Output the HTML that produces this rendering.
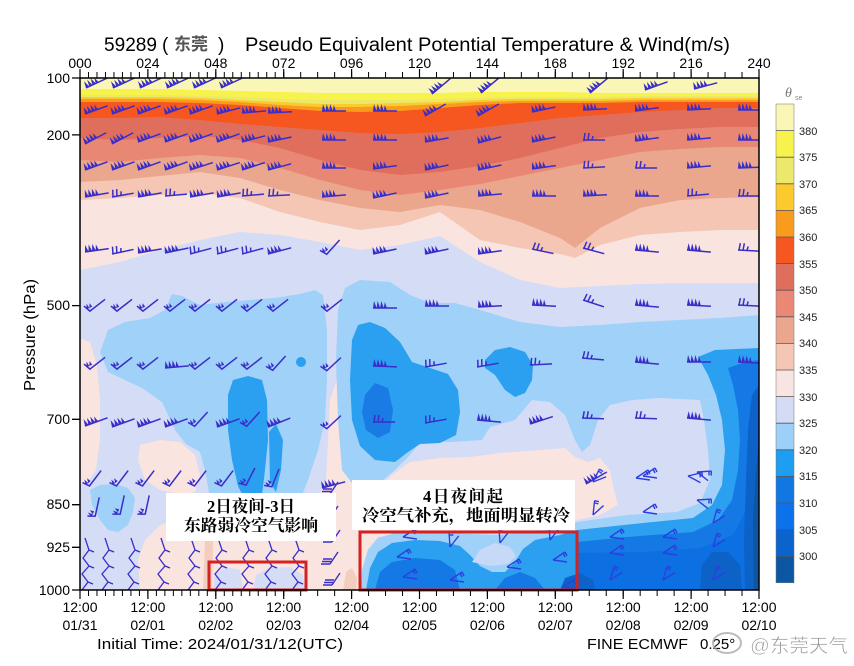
<!DOCTYPE html>
<html><head><meta charset="utf-8"><style>html,body{margin:0;padding:0;background:#fff}svg{display:block}</style></head>
<body>
<svg width="854" height="666" viewBox="0 0 854 666" xmlns="http://www.w3.org/2000/svg" font-family="'Liberation Sans', Arial, sans-serif">
<defs>
<clipPath id="pc"><rect x="80" y="78" width="679" height="512"/></clipPath>
<pattern id="t3" patternUnits="userSpaceOnUse" x="79.5" y="0" width="8.4875" height="700"><rect width="1" height="700" fill="#000"/></pattern>
<pattern id="t6" patternUnits="userSpaceOnUse" x="79.5" y="0" width="16.975" height="700"><rect width="1" height="700" fill="#000"/></pattern>
<g id="bA" fill="#3a2ec8" stroke="#3a2ec8" stroke-width="1.5"><path d="M0,0H24" fill="none"/><path stroke="none" d="M0,0L1,-7L3.6,0ZM3.6,0L4.6,-7L7.2,0ZM7.2,0L8.2,-7L10.8,0ZM10.8,0L11.8,-6L14,0Z"/></g>
<g id="bF" fill="none" stroke="#3a2ec8" stroke-width="1.5"><path d="M0,0H22M1,0L2,-7M5,0L6,-7M9,0l1,-4"/></g>
<g id="bK" stroke="#3a2ec8" stroke-width="1.5" fill="#3a2ec8"><path d="M0,-6L5,0L22,-9" fill="none"/><path stroke="none" d="M2,-3L3,-8L5,-3ZM5,-3L6,-8L8,-4Z"/></g>
<g id="bZ" fill="none" stroke="#3a2ec8" stroke-width="1.3"><path d="M0,0L6,-8L0,-16L7,-24L1,-32L7,-40L3,-52M6,-8l5,2M7,-24l5,2M7,-40l5,2"/></g>
<g id="bV" fill="none" stroke="#2d3fe0" stroke-width="1.4"><path d="M0,0L12,-8M0,0L14,2M12,-8l2,4M10,-7l2,4"/></g>
<g id="bE" fill="none" stroke="#3a2ec8" stroke-width="1.4"><path d="M0,0L8,-12M0,0H-9M1,-2.5H-8M2,-5H-7"/></g>
</defs>
<rect width="854" height="666" fill="#fff"/>

<g clip-path="url(#pc)">
<rect x="80" y="78" width="679" height="512" fill="#f9f6b6"/>
<polygon fill="#f8f24c" points="80,89 120,89 160,89 200,90 240,91 280,92 320,93 360,93 400,93 440,93 480,92 520,92 560,92 600,93 640,93 680,93 720,93 759,93 759,590 80,590"/>
<polygon fill="#ece86c" points="80,95 120,95 160,95 200,96 240,97 280,99 320,100 360,100 400,100 440,99 480,98 520,97 560,97 600,97 640,96 680,96 720,96 759,96 759,590 80,590"/>
<polygon fill="#fcca2c" points="80,97 120,97 160,97 200,98 240,100 280,102 320,104 360,104 400,103 440,102 480,100 520,99 560,99 600,99 640,98 680,98 720,98 759,98 759,590 80,590"/>
<polygon fill="#f99c1d" points="80,99 120,99 160,99 200,100 240,102 280,105 320,107 360,107 400,106 440,104 480,102 520,101 560,101 600,101 640,100 680,100 720,100 759,100 759,590 80,590"/>
<polygon fill="#f6561f" points="80,102 120,102 160,102 200,103 240,105 280,108 320,111 360,112 400,111 440,108 480,105 520,103 560,103 600,103 640,102 680,102 720,102 759,102 759,590 80,590"/>
<polygon fill="#df6f5c" points="80,118 120,118 160,117 200,120 240,124 280,127 320,130 360,133 400,134 440,132 480,128 520,123 560,118 600,115 640,112 680,110 720,108 759,108 759,590 80,590"/>
<polygon fill="#e88874" points="80,138 120,140 160,138 200,136 240,140 280,148 320,160 360,170 400,175 440,172 480,166 520,158 560,148 600,138 640,132 680,129 720,127 759,127 759,590 80,590"/>
<polygon fill="#eba78e" points="80,160 120,162 160,158 200,155 240,158 280,168 320,180 360,190 400,195 440,190 480,184 520,176 560,168 600,160 640,152 680,149 720,147 759,147 759,590 80,590"/>
<polygon fill="#f4c6b3" points="80,182 120,180 160,176 200,172 240,178 280,190 320,200 360,208 400,212 440,205 480,210 520,222 560,238 575,248 600,228 640,208 680,200 720,198 759,197 759,590 80,590"/>
<polygon fill="#f9e4e0" points="80,200 120,198 160,195 200,193 240,198 280,212 320,222 360,230 400,225 440,212 480,240 520,248 560,254 575,258 600,245 640,235 680,232 720,230 759,230 759,590 80,590"/>
<polygon fill="#d4dcf6" points="80,270 120,262 160,250 200,240 240,232 280,235 320,242 360,250 400,245 440,236 480,262 520,280 560,288 600,286 640,284 680,283 720,283 759,283 759,590 80,590"/>

<!-- lower pink patches -->
<polygon fill="#f9e4e0" points="80,338 90,342 97,365 100,400 100,440 96,470 88,482 80,485"/>
<polygon fill="#f9e4e0" points="140,445 160,440 180,442 195,455 200,475 195,492 180,495 160,490 145,480 138,460"/>
<polygon fill="#f9e4e0" points="140,590 138,560 145,540 160,525 185,518 205,520 225,522 250,522 275,520 300,512 318,500 326,480 328,440 330,400 336,382 346,376 352,390 354,430 353,470 352,492 355,520 360,545 361,590"/>
<polygon fill="#f9e4e0" points="352,492 375,490 392,475 410,462 440,458 470,457 500,453 540,450 565,448 575,457 588,462 600,458 610,470 614,490 618,505 600,515 577,520 560,527 530,531 500,534 470,533 430,531 400,532 378,537 368,549 362,570 361,590 352,590"/>
<polygon fill="#d4dcf6" points="213,590 215,575 225,567 240,570 243,590"/>
<polygon fill="#d4dcf6" points="253,590 256,575 270,568 290,567 303,575 305,590"/>
<polygon fill="#f3cdbd" points="203,590 205,540 209,525 213,540 212,590"/>
<polygon fill="#f3cdbd" points="343,590 346,572 352,568 357,578 356,590"/>

<!-- light blue -->
<polygon fill="#a0d1f8" points="100,352 108,330 125,322 150,318 165,310 172,294 182,296 200,305 225,302 250,300 275,298 300,294 315,290 323,295 327,330 327,380 325,420 318,450 308,480 300,500 290,512 275,518 258,518 240,520 222,515 210,498 205,470 200,452 186,444 175,430 162,402 142,388 108,372"/>
<polygon fill="#a0d1f8" points="336,360 338,310 345,288 360,280 390,282 410,295 430,303 455,303 480,310 520,322 560,327 600,325 640,322 680,320 720,318 759,315 759,398 740,395 720,398 700,400 660,398 632,400 610,405 598,420 590,445 582,452 575,440 565,415 550,402 532,400 515,420 490,427 482,440 450,442 420,442 410,455 395,470 375,487 355,487 342,470 338,420"/>
<polygon fill="#a0d1f8" points="90,490 100,485 115,484 128,488 135,498 133,512 128,525 118,532 108,530 100,520 92,505"/>
<polygon fill="#a0d1f8" points="361,590 362,570 368,550 378,538 395,533 420,532 450,533 470,534 500,535 530,532 560,528 577,522 627,515 677,512 700,503 710,480 708,450 704,420 700,400 759,395 759,590"/>

<!-- medium blue -->
<polygon fill="#2b9ff0" points="228,395 233,380 248,376 262,380 267,400 268,440 265,470 262,495 255,507 246,502 238,486 232,460 228,430"/>
<polygon fill="#2b9ff0" points="269,432 276,424 283,440 281,470 276,492 270,482"/>
<polygon fill="#2b9ff0" points="352,340 358,325 370,322 385,328 400,342 412,362 430,368 448,374 458,390 460,412 456,435 440,443 420,444 408,452 395,462 375,460 360,446 352,420 350,380"/>
<polygon fill="#2b9ff0" points="485,360 495,350 510,347 525,352 533,365 532,380 525,393 515,397 505,390 495,375 485,368"/>
<polygon fill="#1a7be4" points="365,395 375,383 388,388 393,410 390,432 378,438 366,430 362,412"/>
<circle cx="301" cy="362" r="5" fill="#2b9ff0"/>
<polygon fill="#2b9ff0" points="366,590 370,568 378,552 392,543 415,540 440,541 460,546 470,555 480,566 492,572 505,572 515,562 523,549 535,540 560,535 577,530 643,523 693,518 712,505 722,485 725,450 722,420 716,395 708,375 698,357 715,350 759,348 759,590"/>
<polygon fill="#c6d9f7" points="472,562 480,550 495,543 510,547 516,556 508,564 490,566"/>
<polygon fill="#1479e4" points="577,542 627,537 693,532 718,520 732,500 738,470 740,440 738,410 733,385 728,368 745,362 759,360 759,590 577,590"/>
<polygon fill="#1479e4" points="375,590 380,572 392,562 415,558 440,560 455,570 460,590"/>
<polygon fill="#1479e4" points="495,590 505,578 520,572 535,578 545,590"/>
<polygon fill="#0c6fe2" points="577,553 643,552 700,548 733,535 746,510 752,475 753,440 750,410 759,395 759,590 577,590"/>
<polygon fill="#0c62c6" points="700,590 702,565 712,552 728,552 740,565 742,590"/>
<polygon fill="#0c62c6" points="560,590 565,578 580,573 593,580 595,590"/>
<polygon fill="#0c62c6" points="745,590 744,540 746,480 748,430 752,395 759,385 759,590"/>
<polygon fill="#0c56a2" points="754,590 753,520 756,470 759,440 759,590"/>

<!-- barbs row 1 -->
<use href="#bA" transform="translate(86,88) rotate(-25)"/><use href="#bA" transform="translate(113,88) rotate(-25)"/><use href="#bA" transform="translate(140,88) rotate(-25)"/><use href="#bA" transform="translate(167,88) rotate(-25)"/><use href="#bA" transform="translate(194,88) rotate(-25)"/><use href="#bA" transform="translate(221,88) rotate(-25)"/>
<use href="#bA" transform="translate(432,94) rotate(-40)"/><use href="#bA" transform="translate(481,93) rotate(-40)"/><use href="#bA" transform="translate(590,93) rotate(-40)"/><use href="#bA" transform="translate(645,90) rotate(-20)"/><use href="#bA" transform="translate(694,89) rotate(-15)"/>
<!-- row 2 -->
<use href="#bA" transform="translate(85,114) rotate(-20)"/><use href="#bA" transform="translate(112,114) rotate(-20)"/><use href="#bA" transform="translate(138,114) rotate(-20)"/><use href="#bA" transform="translate(165,114) rotate(-20)"/><use href="#bA" transform="translate(190,114) rotate(-20)"/><use href="#bA" transform="translate(217,114) rotate(-15)"/><use href="#bA" transform="translate(242,113) rotate(-5)"/><use href="#bA" transform="translate(268,113) rotate(-3)"/>
<use href="#bA" transform="translate(322,111) rotate(0)"/><use href="#bA" transform="translate(373,111) rotate(0)"/><use href="#bA" transform="translate(425,116) rotate(-30)"/><use href="#bA" transform="translate(478,116) rotate(-30)"/><use href="#bA" transform="translate(532,112) rotate(-12)"/><use href="#bA" transform="translate(583,110) rotate(-3)"/><use href="#bA" transform="translate(635,111) rotate(-8)"/><use href="#bA" transform="translate(687,110) rotate(-3)"/><use href="#bA" transform="translate(738,110) rotate(0)"/>
<!-- row 3 -->
<use href="#bA" transform="translate(85,144) rotate(-28)"/><use href="#bA" transform="translate(112,144) rotate(-28)"/><use href="#bA" transform="translate(138,142) rotate(-20)"/><use href="#bA" transform="translate(165,142) rotate(-20)"/><use href="#bA" transform="translate(190,142) rotate(-20)"/><use href="#bA" transform="translate(217,142) rotate(-20)"/><use href="#bA" transform="translate(242,142) rotate(-15)"/><use href="#bA" transform="translate(268,142) rotate(-12)"/>
<use href="#bA" transform="translate(322,140) rotate(0)"/><use href="#bA" transform="translate(373,140) rotate(0)"/><use href="#bA" transform="translate(425,142) rotate(-10)"/><use href="#bA" transform="translate(478,143) rotate(-15)"/><use href="#bA" transform="translate(532,142) rotate(-12)"/><use href="#bF" transform="translate(583,140) rotate(0)"/><use href="#bA" transform="translate(635,141) rotate(-8)"/><use href="#bA" transform="translate(687,140) rotate(-5)"/><use href="#bA" transform="translate(738,140) rotate(0)"/>
<!-- row 4 -->
<use href="#bA" transform="translate(85,170) rotate(-20)"/><use href="#bA" transform="translate(112,170) rotate(-20)"/><use href="#bA" transform="translate(138,170) rotate(-20)"/><use href="#bA" transform="translate(165,170) rotate(-20)"/><use href="#bA" transform="translate(190,170) rotate(-18)"/><use href="#bA" transform="translate(217,170) rotate(-18)"/><use href="#bA" transform="translate(242,170) rotate(-18)"/><use href="#bA" transform="translate(268,170) rotate(-15)"/>
<use href="#bA" transform="translate(322,168) rotate(0)"/><use href="#bA" transform="translate(373,169) rotate(-8)"/><use href="#bA" transform="translate(425,170) rotate(-12)"/><use href="#bA" transform="translate(478,170) rotate(-12)"/><use href="#bA" transform="translate(532,169) rotate(-8)"/><use href="#bF" transform="translate(583,168) rotate(-3)"/><use href="#bF" transform="translate(635,168) rotate(0)"/><use href="#bA" transform="translate(687,168) rotate(-5)"/><use href="#bA" transform="translate(738,168) rotate(-2)"/>
<!-- row 5 -->
<use href="#bA" transform="translate(85,197) rotate(-10)"/><use href="#bF" transform="translate(112,197) rotate(-10)"/><use href="#bA" transform="translate(138,197) rotate(-10)"/><use href="#bF" transform="translate(165,196) rotate(-5)"/><use href="#bA" transform="translate(190,197) rotate(-10)"/><use href="#bA" transform="translate(217,197) rotate(-10)"/><use href="#bF" transform="translate(242,196) rotate(-5)"/><use href="#bF" transform="translate(268,196) rotate(-3)"/>
<use href="#bA" transform="translate(322,197) rotate(-5)"/><use href="#bA" transform="translate(373,198) rotate(-12)"/><use href="#bA" transform="translate(425,198) rotate(-12)"/><use href="#bA" transform="translate(478,196) rotate(-5)"/><use href="#bA" transform="translate(532,196) rotate(0)"/><use href="#bA" transform="translate(583,196) rotate(-3)"/><use href="#bA" transform="translate(635,196) rotate(0)"/><use href="#bF" transform="translate(687,196) rotate(-5)"/><use href="#bF" transform="translate(738,196) rotate(0)"/>
<!-- row 6 -->
<use href="#bA" transform="translate(85,252) rotate(-8)"/><use href="#bF" transform="translate(112,254) rotate(-12)"/><use href="#bA" transform="translate(138,253) rotate(-10)"/><use href="#bA" transform="translate(165,253) rotate(-12)"/><use href="#bF" transform="translate(190,254) rotate(-15)"/><use href="#bF" transform="translate(217,254) rotate(-15)"/><use href="#bF" transform="translate(242,254) rotate(-15)"/><use href="#bA" transform="translate(268,254) rotate(-15)"/>
<use href="#bK" transform="translate(322,256) rotate(-20)"/><use href="#bA" transform="translate(373,254) rotate(-12)"/><use href="#bA" transform="translate(425,254) rotate(-12)"/><use href="#bA" transform="translate(478,254) rotate(-8)"/><use href="#bF" transform="translate(532,249) rotate(12)"/><use href="#bF" transform="translate(583,248) rotate(15)"/><use href="#bA" transform="translate(635,250) rotate(5)"/><use href="#bA" transform="translate(687,250) rotate(5)"/><use href="#bF" transform="translate(738,250) rotate(3)"/>
<!-- row 7 -->
<use href="#bK" transform="translate(85,312) rotate(-10)"/><use href="#bK" transform="translate(112,312) rotate(-10)"/><use href="#bK" transform="translate(138,312) rotate(-10)"/><use href="#bK" transform="translate(165,312) rotate(-10)"/><use href="#bK" transform="translate(190,312) rotate(-10)"/><use href="#bK" transform="translate(217,312) rotate(-10)"/><use href="#bK" transform="translate(242,312) rotate(-10)"/><use href="#bK" transform="translate(268,312) rotate(-10)"/>
<use href="#bK" transform="translate(322,312) rotate(-10)"/><use href="#bA" transform="translate(373,308) rotate(0)"/><use href="#bA" transform="translate(425,306) rotate(0)"/><use href="#bA" transform="translate(478,307) rotate(-3)"/><use href="#bA" transform="translate(532,305) rotate(3)"/><use href="#bF" transform="translate(583,300) rotate(18)"/><use href="#bA" transform="translate(635,305) rotate(5)"/><use href="#bA" transform="translate(687,305) rotate(3)"/><use href="#bF" transform="translate(738,305) rotate(3)"/>
<!-- row 8 -->
<use href="#bK" transform="translate(85,370) rotate(-10)"/><use href="#bK" transform="translate(112,370) rotate(-10)"/><use href="#bK" transform="translate(138,370) rotate(-10)"/><use href="#bA" transform="translate(165,368) rotate(-5)"/><use href="#bK" transform="translate(190,370) rotate(-10)"/><use href="#bK" transform="translate(217,370) rotate(-10)"/><use href="#bK" transform="translate(242,370) rotate(-10)"/><use href="#bK" transform="translate(268,372) rotate(-20)"/>
<use href="#bK" transform="translate(322,372) rotate(-15)"/><use href="#bA" transform="translate(373,366) rotate(2)"/><use href="#bF" transform="translate(425,367) rotate(-10)"/><use href="#bF" transform="translate(477,367) rotate(-10)"/><use href="#bF" transform="translate(530,365) rotate(-3)"/><use href="#bF" transform="translate(582,358) rotate(5)"/><use href="#bA" transform="translate(635,362) rotate(5)"/><use href="#bA" transform="translate(687,362) rotate(0)"/><use href="#bA" transform="translate(738,362) rotate(3)"/>
<!-- row 9 -->
<use href="#bA" transform="translate(85,426) rotate(-20)"/><use href="#bA" transform="translate(112,427) rotate(-20)"/><use href="#bA" transform="translate(138,427) rotate(-20)"/><use href="#bA" transform="translate(165,427) rotate(-20)"/><use href="#bK" transform="translate(190,428) rotate(-20)"/><use href="#bA" transform="translate(217,427) rotate(-20)"/><use href="#bK" transform="translate(242,428) rotate(-20)"/><use href="#bA" transform="translate(268,427) rotate(-22)"/>
<use href="#bK" transform="translate(322,430) rotate(-15)"/><use href="#bF" transform="translate(373,422) rotate(0)"/><use href="#bF" transform="translate(425,423) rotate(-10)"/><use href="#bA" transform="translate(477,420) rotate(5)"/><use href="#bA" transform="translate(530,424) rotate(-18)"/><use href="#bF" transform="translate(582,418) rotate(2)"/><use href="#bF" transform="translate(635,418) rotate(2)"/><use href="#bA" transform="translate(687,418) rotate(5)"/>
<!-- row 10 -->
<use href="#bK" transform="translate(85,488) rotate(-25)"/><use href="#bK" transform="translate(112,488) rotate(-25)"/><use href="#bK" transform="translate(138,488) rotate(-25)"/><use href="#bK" transform="translate(165,488) rotate(-25)"/><use href="#bK" transform="translate(190,488) rotate(-25)"/><use href="#bK" transform="translate(217,488) rotate(-25)"/><use href="#bK" transform="translate(242,488) rotate(-35)"/><use href="#bK" transform="translate(268,490) rotate(-40)"/>
<use href="#bA" transform="translate(322,488) rotate(-15)"/><use href="#bA" transform="translate(586,484) rotate(-30)"/><use href="#bV" transform="translate(636,478) rotate(0)"/><use href="#bV" transform="translate(688,476) rotate(20)"/>
<!-- row 11 -->
<use href="#bK" transform="translate(92,520) rotate(-50)"/><use href="#bK" transform="translate(117,518) rotate(-50)"/><use href="#bK" transform="translate(142,518) rotate(-50)"/>
<!-- zigzags -->
<use href="#bZ" transform="translate(82,590)"/><use href="#bZ" transform="translate(102,590)"/><use href="#bZ" transform="translate(128,590)"/><use href="#bZ" transform="translate(158,590)"/><use href="#bZ" transform="translate(188,590)"/><use href="#bZ" transform="translate(215,590)"/><use href="#bZ" transform="translate(242,590)"/><use href="#bZ" transform="translate(265,590)"/><use href="#bZ" transform="translate(292,590)"/>
<use href="#bE" transform="translate(330,494)"/><use href="#bE" transform="translate(330,518)"/><use href="#bE" transform="translate(332,542)"/><use href="#bE" transform="translate(330,564)"/><use href="#bE" transform="translate(332,585)"/>
<!-- bottom right barbs -->
<use href="#bV" transform="translate(403,537)"/><use href="#bV" transform="translate(397,557)"/><use href="#bV" transform="translate(403,577)"/><use href="#bV" transform="translate(450,547) rotate(-60)"/><use href="#bV" transform="translate(450,580)"/><use href="#bV" transform="translate(500,543) rotate(-60)"/><use href="#bV" transform="translate(507,567)"/><use href="#bV" transform="translate(550,540) rotate(-60)"/><use href="#bV" transform="translate(553,560)"/><use href="#bV" transform="translate(563,587)"/>
<use href="#bV" transform="translate(593,482) rotate(-30)"/><use href="#bV" transform="translate(643,476)"/><use href="#bV" transform="translate(697,472) rotate(30)"/><use href="#bV" transform="translate(593,515) rotate(-50)"/><use href="#bV" transform="translate(643,512)"/><use href="#bV" transform="translate(697,500) rotate(30)"/>
<use href="#bV" transform="translate(610,537)"/><use href="#bV" transform="translate(663,537)"/><use href="#bV" transform="translate(713,523) rotate(-40)"/><use href="#bV" transform="translate(610,553)"/><use href="#bV" transform="translate(663,553)"/><use href="#bV" transform="translate(713,547) rotate(-40)"/><use href="#bV" transform="translate(610,580) rotate(-40)"/><use href="#bV" transform="translate(663,580) rotate(-40)"/><use href="#bV" transform="translate(713,580) rotate(-40)"/>
</g>

<!-- annotations -->
<rect x="166" y="493" width="170" height="48" fill="#fff"/>
<rect x="352" y="480" width="223" height="50" fill="#fff"/>
<g font-family="'Liberation Serif','Noto Serif CJK SC',serif" font-weight="bold" font-size="16.5" fill="#000" text-anchor="middle">
<text x="251" y="512">2日夜间-3日</text>
<text x="251" y="531" textLength="134" lengthAdjust="spacingAndGlyphs">东路弱冷空气影响</text>
<text x="463" y="502" textLength="80" lengthAdjust="spacing">4日夜间起</text>
<text x="466" y="521" textLength="208" lengthAdjust="spacingAndGlyphs">冷空气补充，地面明显转冷</text>
</g>
<rect x="209" y="562" width="97" height="28" fill="none" stroke="#d42222" stroke-width="3"/>
<rect x="360" y="532" width="217" height="58" fill="none" stroke="#d42222" stroke-width="3"/>

<!-- frame & ticks -->
<rect x="80" y="78" width="679" height="512" fill="none" stroke="#000" stroke-width="1.5"/>
<rect x="79.5" y="72" width="204.7" height="6" fill="url(#t3)"/>
<rect x="283.2" y="72" width="477" height="6" fill="url(#t6)"/>
<rect x="79.5" y="590" width="204.7" height="6" fill="url(#t3)"/>
<rect x="283.2" y="590" width="477" height="6" fill="url(#t6)"/>
<path stroke="#000" stroke-width="1.2" d="M80,69V78M147.9,69V78M215.8,69V78M283.7,69V78M351.6,69V78M419.5,69V78M487.4,69V78M555.3,69V78M623.2,69V78M691.1,69V78M759,69V78M80,590V599M147.9,590V599M215.8,590V599M283.7,590V599M351.6,590V599M419.5,590V599M487.4,590V599M555.3,590V599M623.2,590V599M691.1,590V599M759,590V599"/>
<path stroke="#000" stroke-width="1.3" d="M72,78H80M72,134.9H80M72,305.6H80M72,419.3H80M72,504.7H80M72,547.3H80M72,590H80"/>

<g font-size="14" fill="#000" text-anchor="middle">
<text x="80" y="68">000</text><text x="147.9" y="68">024</text><text x="215.8" y="68">048</text><text x="283.7" y="68">072</text><text x="351.6" y="68">096</text><text x="419.5" y="68">120</text><text x="487.4" y="68">144</text><text x="555.3" y="68">168</text><text x="623.2" y="68">192</text><text x="691.1" y="68">216</text><text x="759" y="68">240</text>
<text x="80" y="612">12:00</text><text x="147.9" y="612">12:00</text><text x="215.8" y="612">12:00</text><text x="283.7" y="612">12:00</text><text x="351.6" y="612">12:00</text><text x="419.5" y="612">12:00</text><text x="487.4" y="612">12:00</text><text x="555.3" y="612">12:00</text><text x="623.2" y="612">12:00</text><text x="691.1" y="612">12:00</text><text x="759" y="612">12:00</text>
<text x="80" y="630">01/31</text><text x="147.9" y="630">02/01</text><text x="215.8" y="630">02/02</text><text x="283.7" y="630">02/03</text><text x="351.6" y="630">02/04</text><text x="419.5" y="630">02/05</text><text x="487.4" y="630">02/06</text><text x="555.3" y="630">02/07</text><text x="623.2" y="630">02/08</text><text x="691.1" y="630">02/09</text><text x="759" y="630">02/10</text>
</g>
<g font-size="14" fill="#000" text-anchor="end">
<text x="70" y="83">100</text><text x="70" y="140">200</text><text x="70" y="310">500</text><text x="70" y="424">700</text><text x="70" y="509">850</text><text x="70" y="552">925</text><text x="70" y="595">1000</text>
</g>
<text transform="translate(35,335) rotate(-90)" font-size="16" text-anchor="middle" textLength="112" lengthAdjust="spacingAndGlyphs">Pressure (hPa)</text>

<!-- title -->
<text x="104" y="51" font-size="19" textLength="53" lengthAdjust="spacingAndGlyphs">59289</text>
<text x="162" y="51" font-size="19">(</text>
<text x="174" y="50" font-size="17" fill="#555" font-weight="bold" font-family="'Liberation Sans','Noto Sans CJK SC',sans-serif">东莞</text>
<text x="218" y="51" font-size="19">)</text>
<text x="245" y="51" font-size="19" textLength="485" lengthAdjust="spacingAndGlyphs">Pseudo Equivalent Potential Temperature &amp; Wind(m/s)</text>

<!-- colorbar -->
<g>
<rect x="776" y="104" width="18" height="26.6" fill="#f9f6b6"/>
<rect x="776" y="130.6" width="18" height="26.6" fill="#f8f24c"/>
<rect x="776" y="157.2" width="18" height="26.6" fill="#ece86c"/>
<rect x="776" y="183.8" width="18" height="26.6" fill="#fcca2c"/>
<rect x="776" y="210.4" width="18" height="26.6" fill="#f99c1d"/>
<rect x="776" y="237" width="18" height="26.6" fill="#f6561f"/>
<rect x="776" y="263.6" width="18" height="26.6" fill="#df6f5c"/>
<rect x="776" y="290.2" width="18" height="26.6" fill="#ea8875"/>
<rect x="776" y="316.8" width="18" height="26.6" fill="#eba78e"/>
<rect x="776" y="343.4" width="18" height="26.6" fill="#f4c6b3"/>
<rect x="776" y="370" width="18" height="26.6" fill="#f8e4e0"/>
<rect x="776" y="396.6" width="18" height="26.6" fill="#d3dbf5"/>
<rect x="776" y="423.2" width="18" height="26.6" fill="#9dd0f8"/>
<rect x="776" y="449.8" width="18" height="26.6" fill="#1e9ef0"/>
<rect x="776" y="476.4" width="18" height="26.6" fill="#1177e3"/>
<rect x="776" y="503" width="18" height="26.6" fill="#0b72ec"/>
<rect x="776" y="529.6" width="18" height="26.6" fill="#0b64cd"/>
<rect x="776" y="556.2" width="18" height="26.6" fill="#0c57a3"/>
<path stroke="#555" stroke-width="0.8" d="M776,130.6h18M776,157.2h18M776,183.8h18M776,210.4h18M776,237h18M776,263.6h18M776,290.2h18M776,316.8h18M776,343.4h18M776,370h18M776,396.6h18M776,423.2h18M776,449.8h18M776,476.4h18M776,503h18M776,529.6h18M776,556.2h18"/>
<rect x="776" y="104" width="18" height="478.8" fill="none" stroke="#777" stroke-width="0.5"/>
</g>
<g font-size="11" fill="#222">
<text x="799" y="135">380</text><text x="799" y="161">375</text><text x="799" y="188">370</text><text x="799" y="214">365</text><text x="799" y="241">360</text><text x="799" y="268">355</text><text x="799" y="294">350</text><text x="799" y="321">345</text><text x="799" y="347">340</text><text x="799" y="374">335</text><text x="799" y="401">330</text><text x="799" y="427">325</text><text x="799" y="454">320</text><text x="799" y="480">315</text><text x="799" y="507">310</text><text x="799" y="534">305</text><text x="799" y="560">300</text>
</g>
<text x="785" y="97" font-size="14" font-style="italic" fill="#777" font-family="'Liberation Serif',serif">θ</text>
<text x="795" y="100" font-size="7" fill="#888">se</text>

<!-- footer -->
<text x="97" y="649" font-size="15" textLength="246" lengthAdjust="spacingAndGlyphs">Initial Time: 2024/01/31/12(UTC)</text>
<text x="587" y="649" font-size="15" textLength="101" lengthAdjust="spacingAndGlyphs">FINE ECMWF</text>
<text x="700" y="649" font-size="15">0.25°</text>
<ellipse cx="727" cy="643" rx="14" ry="10" fill="none" stroke="#aaa" stroke-width="2" opacity="0.8"/>
<text x="750" y="652" font-size="19" fill="#9a9a9a" font-family="'Liberation Sans','Noto Sans CJK SC',sans-serif" stroke="#fff" stroke-width="0.5" textLength="98" lengthAdjust="spacingAndGlyphs">@东莞天气</text>
</svg>
</body></html>
